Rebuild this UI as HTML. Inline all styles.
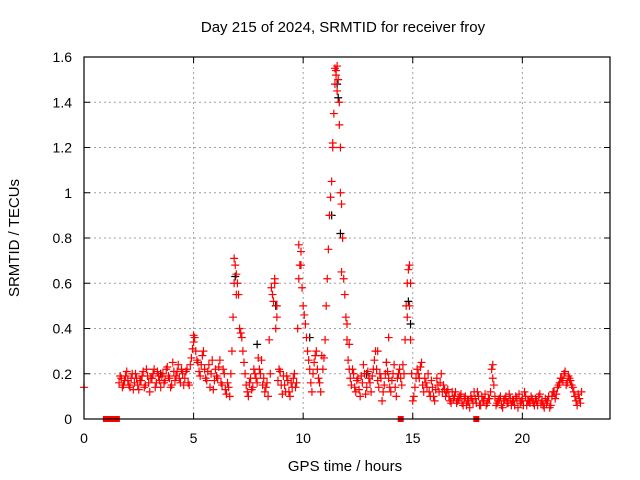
<!DOCTYPE html>
<html><head><meta charset="utf-8"><style>
body{margin:0;background:#fff}
svg{display:block;font-family:"Liberation Sans",sans-serif}
</style></head><body>
<svg id="chart" width="640" height="480" viewBox="0 0 640 480">
<text x="343" y="32" font-size="15" text-anchor="middle">Day 215 of 2024, SRMTID for receiver froy</text>
<text transform="translate(19,238) rotate(-90)" font-size="15" text-anchor="middle">SRMTID / TECUs</text>
<text x="345" y="471" font-size="15" text-anchor="middle">GPS time / hours</text>
<g id="grid"></g><g id="marks"></g><g id="axes"></g>
</svg>
<script>
const xTicks=[0,5,10,15,20];
const yTicks=[0,0.2,0.4,0.6,0.8,1,1.2,1.4,1.6];
const yTickLabels=["0","0.2","0.4","0.6","0.8","1","1.2","1.4","1.6"];
const startA=1.6, startB=1.65, step=0.1;
const valuesA=[0.16,0.18,0.15,0.19,0.17,0.14,0.20,0.16,0.18,0.13,
0.17,0.21,0.15,0.19,0.12,0.18,0.22,0.16,0.19,0.14,
0.20,0.17,0.23,0.18,0.15,0.21,0.19,0.24,0.16,0.20,
0.18,0.22,0.15,0.27,0.34,0.30,0.25,0.19,0.28,0.22,
0.17,0.24,0.20,0.13,0.22,0.18,0.26,0.15,0.20,0.11,
0.14,0.20,0.45,0.68,0.60,0.40,0.36,0.25,0.15,0.10,
0.18,0.14,0.20,0.16,0.22,0.26,0.18,0.14,0.10,0.20,
0.55,0.60,0.50,0.22,0.15,0.19,0.12,0.17,0.10,0.14,
0.20,0.16,0.62,0.74,0.50,0.42,0.30,0.22,0.12,0.25,
0.30,0.18,0.12,0.22,0.35,0.62,0.90,1.05,1.35,1.54,
1.50,1.20,0.80,0.55,0.35,0.22,0.15,0.20,0.12,0.18,
0.10,0.16,0.20,0.14,0.18,0.12,0.22,0.30,0.17,0.20,
0.08,0.15,0.25,0.18,0.12,0.20,0.14,0.18,0.22,0.15,
0.20,0.50,0.66,0.35,0.08,0.14,0.22,0.18,0.25,0.12,
0.16,0.20,0.10,0.14,0.08,0.18,0.12,0.20,0.15,0.10,
0.13,0.08,0.12,0.10,0.07,0.09,0.11,0.06,0.10,0.08,
0.05,0.09,0.12,0.07,0.10,0.06,0.08,0.11,0.07,0.09,
0.22,0.15,0.06,0.08,0.10,0.05,0.09,0.07,0.11,0.06,
0.08,0.10,0.05,0.07,0.09,0.12,0.06,0.08,0.10,0.07,
0.09,0.06,0.11,0.08,0.05,0.07,0.10,0.06,0.12,0.09,
0.14,0.16,0.18,0.20,0.15,0.19,0.17,0.14,0.10,0.06,0.09,0.12];
const valuesB=[0.19,0.14,0.17,0.21,0.15,0.18,0.13,0.20,0.15,0.17,
0.19,0.14,0.22,0.16,0.18,0.20,0.14,0.21,0.17,0.19,
0.16,0.22,0.19,0.14,0.25,0.17,0.21,0.18,0.22,0.15,
0.21,0.16,0.24,0.31,0.36,0.26,0.21,0.24,0.30,0.18,
0.21,0.14,0.26,0.17,0.19,0.23,0.16,0.22,0.13,0.16,
0.10,0.30,0.60,0.64,0.55,0.38,0.30,0.20,0.12,0.16,
0.13,0.22,0.18,0.27,0.20,0.15,0.12,0.16,0.35,0.58,
0.52,0.40,0.17,0.21,0.11,0.15,0.19,0.12,0.16,0.18,
0.14,0.40,0.68,0.58,0.46,0.36,0.26,0.16,0.20,0.28,
0.22,0.16,0.28,0.27,0.50,0.75,0.98,1.22,1.48,1.56,
1.40,0.95,0.62,0.45,0.26,0.18,0.22,0.14,0.17,0.13,
0.19,0.24,0.11,0.21,0.16,0.19,0.26,0.22,0.14,0.18,
0.12,0.20,0.21,0.14,0.17,0.24,0.10,0.20,0.18,0.24,
0.35,0.60,0.50,0.20,0.10,0.18,0.20,0.23,0.15,0.18,
0.14,0.12,0.17,0.10,0.13,0.15,0.16,0.12,0.13,0.12,
0.10,0.07,0.09,0.12,0.08,0.10,0.07,0.09,0.06,0.08,
0.10,0.07,0.09,0.12,0.06,0.10,0.08,0.06,0.09,0.12,
0.18,0.10,0.07,0.09,0.06,0.08,0.10,0.07,0.09,0.08,
0.06,0.09,0.11,0.08,0.06,0.10,0.08,0.07,0.09,0.06,
0.08,0.10,0.07,0.06,0.09,0.08,0.05,0.10,0.12,0.11,
0.15,0.18,0.17,0.21,0.16,0.18,0.15,0.12,0.08,0.11,0.07];
const extraTimes=[0,11.45,11.5,11.55,11.35,11.65,11.7,11.75,9.8,9.9,6.85,6.95,8.7,8.8,14.85,14.9,14.75,13.9,13.4,5.0,18.65,12.0,12.1];
const extraValues=[0.14,1.55,1.52,1.45,1.2,1.3,1.0,0.65,0.77,0.68,0.71,0.55,0.62,0.45,0.68,0.6,0.45,0.36,0.3,0.37,0.24,0.42,0.33];
const blackTimes=[11.55,11.6,11.3,11.7,6.9,8.75,10.3,14.8,14.9,7.9,3.5,12.9,13.8];
const blackValues=[1.48,1.42,0.9,0.82,0.63,0.5,0.36,0.52,0.42,0.33,0.2,0.2,0.25];
const zeroTimes=[1.0,1.2,1.35,1.5,14.45,17.9];

const L=84,R=610,T=57,B=419,XMAX=24,YMAX=1.6;
const sx=t=>L+(R-L)*t/XMAX, sy=v=>B-(B-T)*v/YMAX;
const NS="http://www.w3.org/2000/svg";
function mk(tag,attrs,parent){const e=document.createElementNS(NS,tag);for(const k in attrs)e.setAttribute(k,attrs[k]);parent.appendChild(e);return e;}
const grid=document.getElementById('grid'),marks=document.getElementById('marks'),axes=document.getElementById('axes');
yTicks.forEach((v,i)=>{const y=sy(v);
 if(i>0&&i<yTicks.length-1){const g=mk('line',{x1:L,x2:R,y1:y,y2:y,stroke:'#a0a0a0','stroke-dasharray':'2,3'},grid);
 
 }
 mk('line',{x1:L,x2:L+6,y1:y,y2:y,stroke:'#000'},axes);mk('line',{x1:R-6,x2:R,y1:y,y2:y,stroke:'#000'},axes);
 const t=mk('text',{x:L-12,y:y+5,'font-size':14,'text-anchor':'end'},axes);t.textContent=yTickLabels[i];
 
 
});
xTicks.forEach(v=>{const x=sx(v);
 if(v>0){const g=mk('line',{x1:x,x2:x,y1:T,y2:B,stroke:'#a0a0a0','stroke-dasharray':'2,3'},grid);
 
 }
 mk('line',{x1:x,x2:x,y1:B,y2:B-6,stroke:'#000'},axes);mk('line',{x1:x,x2:x,y1:T,y2:T+6,stroke:'#000'},axes);
 const t=mk('text',{x:x,y:B+24,'font-size':14,'text-anchor':'middle'},axes);t.textContent=String(v);
 
 
});
const frame=mk('rect',{x:L,y:T,width:R-L,height:B-T,fill:'none',stroke:'#000','stroke-width':1.2},axes);


function plus(t,v,color,name){const x=sx(t),y=sy(v);
 const p=mk('path',{d:`M${x-4},${y}H${x+4}M${x},${y-4}V${y+4}`,stroke:color,'stroke-width':1.2,fill:'none'},marks);
 
 }
blackTimes.forEach((t,i)=>plus(t,blackValues[i],'#000','black-point'));
valuesA.forEach((v,i)=>plus(startA+i*step,v,'#f00','srmtid-point'));
valuesB.forEach((v,i)=>plus(startB+i*step,v,'#f00','srmtid-point'));
extraTimes.forEach((t,i)=>plus(t,extraValues[i],'#f00','srmtid-point'));
zeroTimes.forEach(t=>{const r=mk('rect',{x:sx(t)-3,y:B-3,width:6,height:6,fill:'#f00'},marks);
 
 });
</script>
</body></html>
